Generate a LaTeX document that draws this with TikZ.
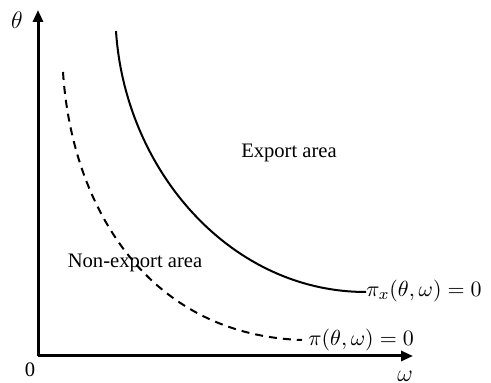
\documentclass[tikz,border=0pt]{standalone}
\usepackage{fontspec}
\setmainfont{Liberation Serif}
\usetikzlibrary{arrows.meta}
\begin{document}
\begin{tikzpicture}[x=0.5pt,y=-0.5pt,
  axis/.style={line width=1.5pt,-{Triangle[length=6pt,width=5pt]}},
  bound/.style={line width=1pt},
  lbl/.style={inner sep=0pt,font=\fontsize{10.3}{12}\selectfont},
  mlbl/.style={inner sep=0pt,anchor=west,font=\fontsize{11.3}{13}\selectfont}]
\useasboundingbox (0,0) rectangle (491,383);
\coordinate (O) at (38,356);
\coordinate (ytip) at (38,10);
\coordinate (xtip) at (413,356);
\draw[axis] (O) -- (ytip);
\draw[axis] (O) -- (xtip);
\node[lbl,font=\fontsize{12}{14}\selectfont] (th) at (17,20) {$\theta$};
\node[lbl,font=\fontsize{12}{14}\selectfont] (om) at (405,376) {$\omega$};
\node[lbl] (zero) at (30,370) {0};
\coordinate (s0) at (116,31);
\coordinate (s1) at (366,292);
\coordinate (d0) at (63,72);
\coordinate (d1) at (302,340);
\draw[bound] (s0) .. controls (125,170) and (230,292) .. (s1);
\draw[bound,dashed,dash pattern=on 4pt off 3pt] (d0) .. controls (72,210) and (150,335) .. (d1);
\node[mlbl] (px) at (366,291) {$\pi_x(\theta,\omega)=0$};
\node[mlbl] (p) at (308,340) {$\pi(\theta,\omega)=0$};
\node[lbl] (ex) at (289,153) {Export area};
\node[lbl] (nex) at (135,263) {Non-export area};
\end{tikzpicture}
\end{document}
